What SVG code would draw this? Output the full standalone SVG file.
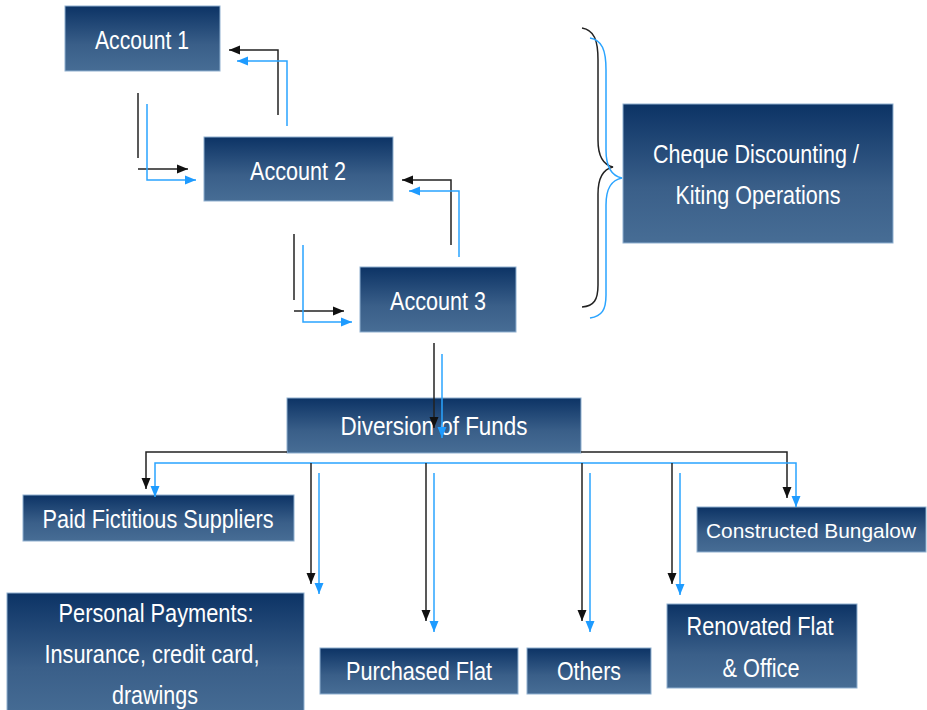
<svg xmlns="http://www.w3.org/2000/svg" width="927" height="710" viewBox="0 0 927 710">
<defs>
<linearGradient id="g" x1="0" y1="0" x2="0" y2="1">
<stop offset="0" stop-color="#0c3365"/>
<stop offset="0.6" stop-color="#3a5f89"/>
<stop offset="1" stop-color="#476d95"/>
</linearGradient>
<marker id="ak" markerUnits="userSpaceOnUse" markerWidth="12" markerHeight="10" refX="11" refY="5" orient="auto"><path d="M0,0.5 L11,5 L0,9.5 z" fill="#111"/></marker>
<marker id="ab" markerUnits="userSpaceOnUse" markerWidth="12" markerHeight="10" refX="11" refY="5" orient="auto"><path d="M0,0.5 L11,5 L0,9.5 z" fill="#1e9bff"/></marker>
</defs>
<style>
.box{fill:url(#g);stroke:#8fb0d0;stroke-width:1}
.t{font-family:"Liberation Sans",Arial,sans-serif;font-size:26px;fill:#fff;text-anchor:middle}
.k{fill:none;stroke:#222;stroke-width:1.5}
.b{fill:none;stroke:#2aa4ff;stroke-width:1.5}
.ka{marker-end:url(#ak)}
.ba{marker-end:url(#ab)}
</style>
<g id="account1"><rect class="box" x="65" y="6" width="155" height="65"/><text class="t" x="142" y="49" textLength="94" lengthAdjust="spacingAndGlyphs">Account 1</text></g>
<g id="account2"><rect class="box" x="204" y="137" width="189" height="64"/><text class="t" x="298" y="180" textLength="96" lengthAdjust="spacingAndGlyphs">Account 2</text></g>
<g id="account3"><rect class="box" x="360" y="267" width="156" height="65"/><text class="t" x="438" y="310" textLength="96" lengthAdjust="spacingAndGlyphs">Account 3</text></g>
<g id="cheque"><rect class="box" x="623" y="104" width="270" height="139"/><text class="t" x="756" y="163" textLength="206" lengthAdjust="spacingAndGlyphs">Cheque Discounting /</text><text class="t" x="758" y="204" textLength="165" lengthAdjust="spacingAndGlyphs">Kiting Operations</text></g>
<g id="diversion"><rect class="box" x="287" y="398" width="294" height="55"/><text class="t" x="434" y="435" textLength="187" lengthAdjust="spacingAndGlyphs">Diversion  of Funds</text></g>
<g id="paid"><rect class="box" x="23" y="495" width="271" height="46"/><text class="t" x="158" y="528" textLength="231" lengthAdjust="spacingAndGlyphs">Paid Fictitious Suppliers</text></g>
<g id="bungalow"><rect class="box" x="697" y="507" width="229" height="45"/><text class="t" x="811" y="538" style="font-size:21px" textLength="210" lengthAdjust="spacingAndGlyphs">Constructed Bungalow</text></g>
<g id="personal"><rect class="box" x="7" y="593" width="297" height="125"/><text class="t" x="156" y="622" textLength="195" lengthAdjust="spacingAndGlyphs">Personal Payments:</text><text class="t" x="152" y="663" textLength="215" lengthAdjust="spacingAndGlyphs">Insurance, credit card,</text><text class="t" x="155" y="704" textLength="86" lengthAdjust="spacingAndGlyphs">drawings</text></g>
<g id="purchased"><rect class="box" x="320" y="648" width="198" height="46"/><text class="t" x="419" y="680" textLength="146" lengthAdjust="spacingAndGlyphs">Purchased Flat</text></g>
<g id="others"><rect class="box" x="527" y="648" width="124" height="46"/><text class="t" x="589" y="680" textLength="64" lengthAdjust="spacingAndGlyphs">Others</text></g>
<g id="renovated"><rect class="box" x="667" y="604" width="190" height="84"/><text class="t" x="760" y="635" textLength="147" lengthAdjust="spacingAndGlyphs">Renovated Flat</text><text class="t" x="761" y="677" textLength="77" lengthAdjust="spacingAndGlyphs">&amp; Office</text></g>
<g id="connectors">
<path class="k" d="M138,93 V158"/><path class="k ka" d="M138,169 H188"/>
<path class="b ba" d="M147,104 V180 H196"/>
<path class="k ka" d="M278,115 V50 H229"/>
<path class="b ba" d="M287,126 V61 H237"/>
<path class="k" d="M294,234 V300"/><path class="k ka" d="M294,311 H344"/>
<path class="b ba" d="M303,245 V322 H352"/>
<path class="k ka" d="M451,245 V180 H402"/>
<path class="b ba" d="M459,257 V191 H409"/>
<path class="k ka" d="M434,343 V428"/>
<path class="b ba" d="M442,354 V438"/>
<path class="k" d="M582,28 C594,30 598,40 598,60 L598,140 C598,158 604,165 613,167 C604,169 598,176 598,194 L598,285 C598,300 594,306 582,307"/>
<path class="b" d="M590,38 C602,40 606,50 606,70 L606,150 C606,168 612,176 622,178 C612,180 606,187 606,205 L606,295 C606,310 602,316 590,318"/>
<path class="k ka" d="M287,452 H146 V489"/>
<path class="k ka" d="M581,452 H787 V498"/>
<path class="b ba" d="M442,463 H155 V497"/>
<path class="b ba" d="M442,463 H796 V507"/>
<path class="k ka" d="M311,463 V584"/>
<path class="k ka" d="M426,463 V621"/>
<path class="k ka" d="M582,463 V621"/>
<path class="k ka" d="M672,463 V584"/>
<path class="b ba" d="M319,473 V594"/>
<path class="b ba" d="M434,473 V632"/>
<path class="b ba" d="M590,473 V632"/>
<path class="b ba" d="M680,473 V595"/>
</g>
</svg>
